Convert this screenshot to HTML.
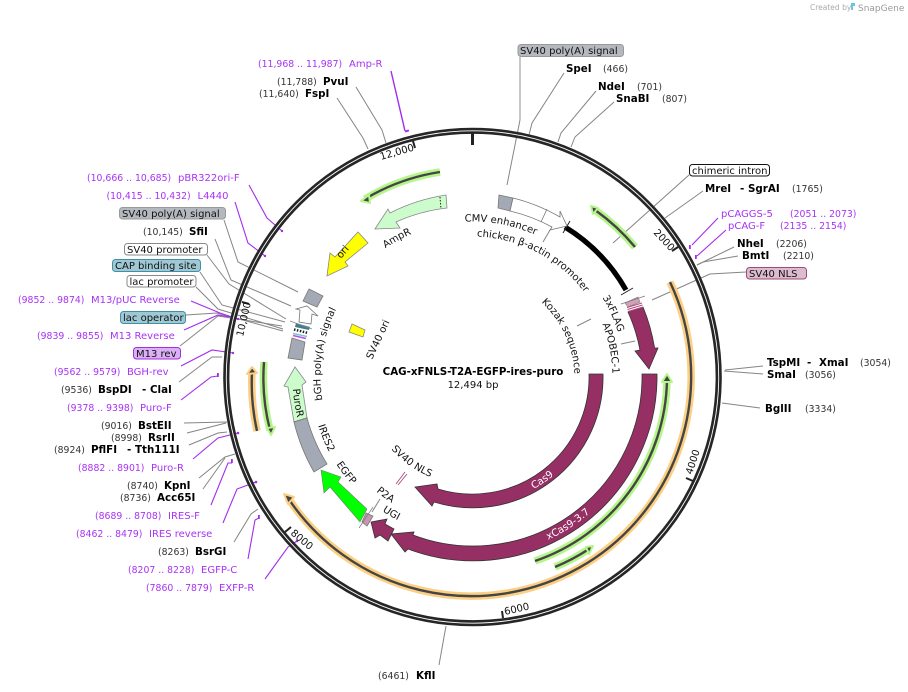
<!DOCTYPE html>
<html><head><meta charset="utf-8"><style>
html,body{margin:0;padding:0;background:#fff;overflow:hidden}
svg{display:block}
text{font-family:"DejaVu Sans","Liberation Sans",sans-serif;font-size:10px;fill:#111}
.r{font-size:9.3px;fill:#333}
.b{font-weight:bold;font-size:10.3px;fill:#000}
.p{fill:#a832f5;font-size:10px}
.pr{fill:#a832f5;font-size:9.3px}
.f{fill:none;stroke:#858585;stroke-width:1}
.v{fill:none;stroke:#a32cf0;stroke-width:1.1}
.tick{stroke:#222;stroke-width:2}
.gh{fill:none;stroke:#b5f58a;stroke-width:7.5}
.oh{fill:none;stroke:#fcd084;stroke-width:7.5}
.c{fill:none;stroke:#454545;stroke-width:2.4}
.ga{fill:#444;stroke:#b5f58a;stroke-width:2;stroke-linejoin:round}
.oa{fill:#444;stroke:#fcd084;stroke-width:2;stroke-linejoin:round}
.m{fill:#962f63;stroke:#333;stroke-width:.8}
</style></head><body>
<svg width="908" height="692" viewBox="0 0 908 692" xmlns="http://www.w3.org/2000/svg">
<defs>
<path id="cw100" d="M472.5 479.5A102 102 0 1 1 472.5 275.5A102 102 0 1 1 472.5 479.5"/>
<path id="cw140" d="M472.5 516.5A140 140 0 1 1 472.5 236.5A140 140 0 1 1 472.5 516.5"/>
<path id="cw152" d="M472.5 528.5A152 152 0 1 1 472.5 224.5A152 152 0 1 1 472.5 528.5"/>
<path id="cw155" d="M472.5 531.5A155 155 0 1 1 472.5 221.5A155 155 0 1 1 472.5 531.5"/>
<path id="ccw109" d="M472.5 267.5A109 109 0 1 0 472.5 485.5A109 109 0 1 0 472.5 267.5"/>
<path id="ccw128" d="M472.5 248.5A128 128 0 1 0 472.5 504.5A128 128 0 1 0 472.5 248.5"/>
<path id="ccw150" d="M472.5 226.5A150 150 0 1 0 472.5 526.5A150 150 0 1 0 472.5 226.5"/>
<path id="ccw162" d="M472.5 214.5A162 162 0 1 0 472.5 538.5A162 162 0 1 0 472.5 214.5"/>
<path id="ccw180" d="M472.5 196.5A180 180 0 1 0 472.5 556.5A180 180 0 1 0 472.5 196.5"/>
</defs>

<!-- leaders -->
<g class="f">
<path d="M520 57V120" style="stroke:#aaa;stroke-width:1.3"/>
<path d="M520 120L507 185"/>
<path d="M356 87L382 130L386 143"/>
<path d="M337 98L363 138L368 149"/>
<path d="M564 73L532 123L529 135"/>
<path d="M596 91L561 133L558 142"/>
<path d="M614 102L575 137L571 147"/>
<path d="M689 175L613 243"/>
<path d="M703 191L665 218"/>
<path d="M734 247L697 265"/>
<path d="M738 256L703 262L697 265"/>
<path d="M746 272L710 274L652 300"/>
<path d="M763 366L725 370"/>
<path d="M763 374L724 371"/>
<path d="M760 408L722 403"/>
<path d="M439 665L446 626"/>
<path d="M224 220L238 262L298 292"/>
<path d="M215 239L231 280L291 306"/>
<path d="M207 255L229 284L286 319"/>
<path d="M200 272L222 305L285 322"/>
<path d="M196 287L218 309L283 329"/>
<path d="M186 315L217 313L283 331"/>
<path d="M180 346L218 316L282 326"/>
<path d="M179 382L212 357L222 357"/>
<path d="M184 423L227 422"/>
<path d="M187 433L226 423"/>
<path d="M189 445L218 433L227 432"/>
<path d="M199 478L225 457L235 454"/>
<path d="M203 489L225 458"/>
<path d="M234 542L251 514L258 509"/>
<path d="M577 326L591 319"/>
<path d="M621 344L635 341"/>
<path d="M380 499L372 512"/>
<path d="M550 230L543 242"/>
</g>
<g class="v">
<path d="M391 71L405 131" style="stroke-width:1.4"/>
<path d="M249 185L267 218L282 231"/>
<path d="M235 202L248 243L265 256"/>
<path d="M191 301L220 313L238 319"/>
<path d="M184 330L218 315L230 317"/>
<path d="M181 366L212 350L233 353"/>
<path d="M181 400L211 377L218 376"/>
<path d="M193 459L218 438L238 433"/>
<path d="M211 505L228 463L232 463"/>
<path d="M223 523L237 489L256 482"/>
<path d="M248 559L255 520L259 518"/>
<path d="M265 579L288 547L297 541"/>
<path d="M718 218L692 245"/>
<path d="M726 230L697 256"/>
</g>
<g fill="#a32cf0" stroke="none">
<rect x="405" y="130" width="4" height="2" transform="rotate(-16 407 131)"/>
<circle cx="282" cy="231" r="1.2"/><circle cx="265" cy="256" r="1.2"/>
<circle cx="238" cy="319" r="1.2"/><circle cx="233" cy="353" r="1.2"/>
<rect x="217" y="373" width="1.8" height="4"/>
<circle cx="238" cy="433" r="1.3"/>
<rect x="231" y="459" width="1.8" height="4"/>
<circle cx="256" cy="482" r="1.3"/>
<rect x="258" y="515" width="1.8" height="4"/>
<circle cx="297" cy="541" r="1.3"/>
<rect x="689" y="245" width="1.8" height="4"/>
<rect x="695" y="255" width="1.8" height="4"/>
</g>

<!-- backbone -->
<circle cx="472.5" cy="377" r="246.2" fill="none" stroke="#262626" stroke-width="6.2"/>
<circle cx="472.5" cy="377" r="246.2" fill="none" stroke="#fff" stroke-width=".9"/>
<path d="M472.5 133V145" stroke="#222" stroke-width="3"/>
<g class="tick">
<path d="M678 247L672 251"/><path d="M693 481L686 478"/><path d="M503 618L502 611"/>
<path d="M285 532L291 527"/><path d="M242 302L249 304"/><path d="M413 141L415 148"/>
</g>

<!-- primers -->
<path class="gh" d="M440 172A207 207 0 0 0 365 199"/><path class="c" d="M440 172A207 207 0 0 0 365 199"/>
<polygon class="ga" points="361,201 369,195 370,203"/>
<path class="gh" d="M635 247A208 208 0 0 0 595 210"/><path class="c" d="M635 247A208 208 0 0 0 595 210"/>
<polygon class="ga" points="591,206 598,208 593,214"/>
<path class="gh" d="M667 380A195 195 0 0 1 535 561"/><path class="c" d="M667 380A195 195 0 0 1 535 561"/>
<polygon class="ga" points="667,374 662,382 672,382"/>
<path class="gh" d="M555 567A208 208 0 0 0 589 549"/><path class="c" d="M555 567A208 208 0 0 0 589 549"/>
<polygon class="ga" points="593,546 586,547 589,554"/>
<path class="gh" d="M264 362A208 208 0 0 0 270 430"/><path class="c" d="M264 362A208 208 0 0 0 270 430"/>
<polygon class="ga" points="271,435 267,428 275,427"/>
<path class="oh" d="M252 372A221 221 0 0 0 257 431"/><path class="c" d="M252 372A221 221 0 0 0 257 431"/>
<polygon class="oa" points="252,367 247,374 257,373"/>
<path class="oh" d="M670 282A220 220 0 0 1 288 498"/><path class="c" d="M670 282A220 220 0 0 1 288 498"/>
<polygon class="oa" points="284,494 294,497 288,504"/>

<!-- features -->
<path class="m" d="M603 374A130.5 130.5 0 0 1 434 502L432 506L415 487L437 484L438 489A117 117 0 0 0 589 374Z"/>
<path class="m" d="M657 374A184 184 0 0 1 408 549L405 552L391 534L414 532L413 535A169 169 0 0 0 642 374Z"/>
<path class="m" d="M643 307A184 184 0 0 1 654.6 348L658 348L649 369L635 351L640 350A169 169 0 0 0 628 312Z"/>
<polygon class="m" points="371,522 387,519 385,524 394,529 388,541 380,535 375,538"/>

<path d="M565 227A176 176 0 0 1 626 290" fill="none" stroke="#000" stroke-width="5.2"/>
<path d="M563 233L570 221M621 295L633 288" stroke="#222" stroke-width="1" fill="none"/>

<polygon points="499,195 513,198 510,211 498,208" fill="#a3aab5" stroke="#777" stroke-width=".8"/>
<path d="M513 198A183 183 0 0 1 560 217L560 211L567 226L550 230L552 227A170 170 0 0 0 510 211Z" fill="#fff" stroke="#777" stroke-width=".8"/>
<path d="M547 209L541 222" stroke="#777" stroke-width=".8"/>

<path d="M446 195L447 208A171 171 0 0 0 396 222L400 228L375 229L388 209L390 213A184 184 0 0 1 446 195Z" fill="#ccfccc" stroke="#888" stroke-width=".8"/>
<path d="M440 197L441 209" stroke="#222" stroke-width="1" stroke-dasharray="1.5 1.5"/>

<polygon points="358,232 368,243 345,262 348,266 327,276 330,253 335,257" fill="#ff0" stroke="#888" stroke-width=".8"/>
<polygon points="352,324 365,330 363,337 349,332" fill="#ff0" stroke="#888" stroke-width=".8"/>

<polygon points="309,289 323,296 317,307 303,301" fill="#a3aab5" stroke="#777" stroke-width=".8"/>
<polygon points="296,309 307,306 318,316 312,314 311,324 299,322 300,310" fill="#fff" stroke="#777" stroke-width=".8"/>
<polygon points="296,323 310,327 309,330 295,327" fill="#3d7f8e"/>
<path d="M294 329.5L308 333" stroke="#222" stroke-width="2.5" stroke-dasharray="1.5 1.5"/>
<path d="M293 333.5L307 336.5" stroke="#7fc5cf" stroke-width="1.5"/>
<path d="M293 335.5L306 338.5" stroke="#b84ff0" stroke-width="1.5"/>
<path d="M290 321L312 329" stroke="#888" stroke-width=".7"/>
<polygon points="292,338 305,342 302,360 288,358" fill="#a3aab5" stroke="#777" stroke-width=".8"/>

<polygon points="295,367 306,382 302,385 307,418 294,422 288,387 284,386" fill="#ccfccc" stroke="#888" stroke-width=".8"/>
<path d="M294 422L307 418" stroke="#222" stroke-width="1" stroke-dasharray="1.5 1.5"/>
<path d="M294 422L307 418A178 178 0 0 0 327 464L314 472A190 190 0 0 1 294 422Z" fill="#a3aab5" stroke="#777" stroke-width=".8"/>

<polygon points="321,470 341,477 338,482 367,509 360,522 330,487 324,493" fill="#0f0" stroke="#7a7a7a" stroke-width=".6"/>
<polygon points="366,513 373,516 367,526 362,522" fill="#c996b2" stroke="#777" stroke-width=".8"/>
<path d="M359 528L373 507" stroke="#777" stroke-width=".7"/>

<path d="M405 472L396 484M407 474L398 485" stroke="#b04a7d" stroke-width=".9" fill="none"/>

<polygon points="625,303 638,297 640,302 628,307" fill="#d3a0ba" stroke="#888" stroke-width=".7"/>
<polygon points="627,307 642,303 643,307 628,312" fill="#fff"/>
<path d="M627 307.5L642 303M627.5 309.5L642.5 305M628 311.5L643 307" stroke="#b04a7d" stroke-width="1"/>
<path d="M621 304L645 296" stroke="#777" stroke-width=".7"/>

<!-- curved labels -->
<text><textPath href="#cw155" startOffset="49.2%">CMV enhancer</textPath></text>
<text><textPath href="#cw140" startOffset="50.5%">chicken β-actin promoter</textPath></text>
<text><textPath href="#cw100" startOffset="61.8%">Kozak sequence</textPath></text>
<text><textPath href="#cw152" startOffset="66.3%">3xFLAG</textPath></text>
<text><textPath href="#cw140" startOffset="68.9%">APOBEC-1</textPath></text>
<text><textPath href="#cw155" startOffset="40.5%">AmpR</textPath></text>
<text><textPath href="#cw152" startOffset="22.5%">bGH poly(A) signal</textPath></text>
<text><textPath href="#ccw162" startOffset="29.9%">IRES2</textPath></text>
<text><textPath href="#ccw162" startOffset="34.1%">EGFP</textPath></text>
<text><textPath href="#ccw150" startOffset="38.9%">P2A</textPath></text>
<text><textPath href="#ccw162" startOffset="40.6%">UGI</textPath></text>
<text><textPath href="#ccw109" startOffset="36.6%">SV40 NLS</textPath></text>
<text style="fill:#fff"><textPath href="#ccw128" startOffset="57.9%">Cas9</textPath></text>
<text style="fill:#fff"><textPath href="#ccw180" startOffset="56.9%">xCas9-3.7</textPath></text>
<text><textPath href="#ccw180" startOffset="26.1%">PuroR</textPath></text>
<text x="372" y="360" transform="rotate(-65 372 360)">SV40 ori</text>
<text x="341" y="259" transform="rotate(-50 341 259)">ori</text>

<!-- tick labels -->
<text x="381" y="160" transform="rotate(-16 381 160)">12,000</text>
<text x="653" y="233" transform="rotate(47 653 233)">2000</text>
<text x="692" y="475" transform="rotate(-72 692 475)">4000</text>
<text x="505" y="615" transform="rotate(-13 505 615)">6000</text>
<text x="290" y="534" transform="rotate(40 290 534)">8000</text>
<text x="243" y="337" transform="rotate(-77 243 337)">10,000</text>

<!-- title -->
<text x="473" y="375" text-anchor="middle" style="font-weight:bold;font-size:10.3px;fill:#000">CAG-xFNLS-T2A-EGFP-ires-puro</text>
<text x="473" y="388" text-anchor="middle">12,494 bp</text>

<!-- label boxes -->
<rect x="518" y="44.5" width="105.500" height="12" rx="3" fill="#b5b9bf" stroke="#999"/>
<text x="520" y="54">SV40 poly(A) signal</text>
<rect x="689.500" y="164.500" width="80" height="11.500" rx="3" fill="#fff" stroke="#111"/>
<text x="692" y="174">chimeric intron</text>
<rect x="746.500" y="267.500" width="60" height="11.500" rx="3" fill="#dcbcce" stroke="#a14a73"/>
<text x="749" y="277">SV40 NLS</text>
<rect x="119.500" y="207.500" width="106" height="11.500" rx="3" fill="#b5b9bf" stroke="#999"/>
<text x="122" y="217">SV40 poly(A) signal</text>
<rect x="124.500" y="243.500" width="83" height="11.500" rx="3" fill="#fff" stroke="#888"/>
<text x="127" y="253">SV40 promoter</text>
<rect x="112.500" y="259.500" width="88" height="12" rx="3" fill="#a0c8d4" stroke="#3f8fa5"/>
<text x="115" y="269">CAP binding site</text>
<rect x="127" y="275.500" width="69" height="11.500" rx="3" fill="#fff" stroke="#888"/>
<text x="129.500" y="285">lac promoter</text>
<rect x="120.500" y="311.500" width="65" height="12" rx="3" fill="#a0c8d4" stroke="#3f8fa5"/>
<text x="123" y="321">lac operator</text>
<rect x="133.500" y="347.500" width="47" height="11.500" rx="3" fill="#dcb0f5" stroke="#a030e0"/>
<text x="136" y="357">M13 rev</text>

<!-- top labels -->
<text class="pr" x="258" y="67">(11,968 .. 11,987)</text><text class="p" x="349" y="67">Amp-R</text>
<text class="r" x="277" y="85">(11,788)</text><text class="b" x="323" y="85">PvuI</text>
<text class="r" x="259" y="97">(11,640)</text><text class="b" x="305" y="97">FspI</text>
<text class="b" x="566" y="72">SpeI</text><text class="r" x="603" y="72">(466)</text>
<text class="b" x="598" y="90">NdeI</text><text class="r" x="637" y="90">(701)</text>
<text class="b" x="616" y="102">SnaBI</text><text class="r" x="662" y="102">(807)</text>

<!-- right labels -->
<text class="b" x="705" y="192">MreI</text><text class="b" x="740" y="192">-</text><text class="b" x="748" y="192">SgrAI</text><text class="r" x="792" y="192">(1765)</text>
<text class="p" x="721" y="217">pCAGGS-5</text><text class="pr" x="790" y="217">(2051 .. 2073)</text>
<text class="p" x="728" y="229">pCAG-F</text><text class="pr" x="780" y="229">(2135 .. 2154)</text>
<text class="b" x="737" y="247">NheI</text><text class="r" x="776" y="247">(2206)</text>
<text class="b" x="742" y="259">BmtI</text><text class="r" x="783" y="259">(2210)</text>
<text class="b" x="767" y="366">TspMI</text><text class="b" x="807" y="366">-</text><text class="b" x="819" y="366">XmaI</text><text class="r" x="860" y="366">(3054)</text>
<text class="b" x="767" y="378">SmaI</text><text class="r" x="805" y="378">(3056)</text>
<text class="b" x="765" y="412">BglII</text><text class="r" x="805" y="412">(3334)</text>

<!-- bottom -->
<text class="r" x="378" y="679">(6461)</text><text class="b" x="416" y="679">KflI</text>

<!-- left labels -->
<text class="pr" x="87" y="181">(10,666 .. 10,685)</text><text class="p" x="178" y="181">pBR322ori-F</text>
<text class="pr" x="106.500" y="199">(10,415 .. 10,432)</text><text class="p" x="197.500" y="199">L4440</text>
<text class="r" x="143" y="235">(10,145)</text><text class="b" x="189" y="235">SfiI</text>
<text class="pr" x="18" y="303">(9852 .. 9874)</text><text class="p" x="91" y="303">M13/pUC Reverse</text>
<text class="pr" x="37" y="339">(9839 .. 9855)</text><text class="p" x="110" y="339">M13 Reverse</text>
<text class="pr" x="54" y="375">(9562 .. 9579)</text><text class="p" x="127" y="375">BGH-rev</text>
<text class="r" x="61" y="393">(9536)</text><text class="b" x="98" y="393">BspDI</text><text class="b" x="142" y="393">-</text><text class="b" x="150" y="393">ClaI</text>
<text class="pr" x="67" y="411">(9378 .. 9398)</text><text class="p" x="140" y="411">Puro-F</text>
<text class="r" x="101" y="429">(9016)</text><text class="b" x="138" y="429">BstEII</text>
<text class="r" x="111" y="441">(8998)</text><text class="b" x="148" y="441">RsrII</text>
<text class="r" x="54" y="453">(8924)</text><text class="b" x="91" y="453">PflFI</text><text class="b" x="127" y="453">-</text><text class="b" x="135" y="453">Tth111I</text>
<text class="pr" x="78" y="471">(8882 .. 8901)</text><text class="p" x="151" y="471">Puro-R</text>
<text class="r" x="127" y="489">(8740)</text><text class="b" x="164" y="489">KpnI</text>
<text class="r" x="120" y="501">(8736)</text><text class="b" x="157" y="501">Acc65I</text>
<text class="pr" x="95" y="519">(8689 .. 8708)</text><text class="p" x="168" y="519">IRES-F</text>
<text class="pr" x="76" y="537">(8462 .. 8479)</text><text class="p" x="149" y="537">IRES reverse</text>
<text class="r" x="158" y="555">(8263)</text><text class="b" x="195" y="555">BsrGI</text>
<text class="pr" x="128" y="573">(8207 .. 8228)</text><text class="p" x="201" y="573">EGFP-C</text>
<text class="pr" x="146" y="591">(7860 .. 7879)</text><text class="p" x="219" y="591">EXFP-R</text>

<!-- watermark -->
<text x="810" y="10" style="font-size:7.500px;fill:#aaa">Created by</text>
<path d="M851 3h4v3h-2v4h-2z" fill="#6cc4e8"/>
<text x="858" y="11" style="font-size:9px;fill:#999">SnapGene</text>
</svg>
</body></html>
